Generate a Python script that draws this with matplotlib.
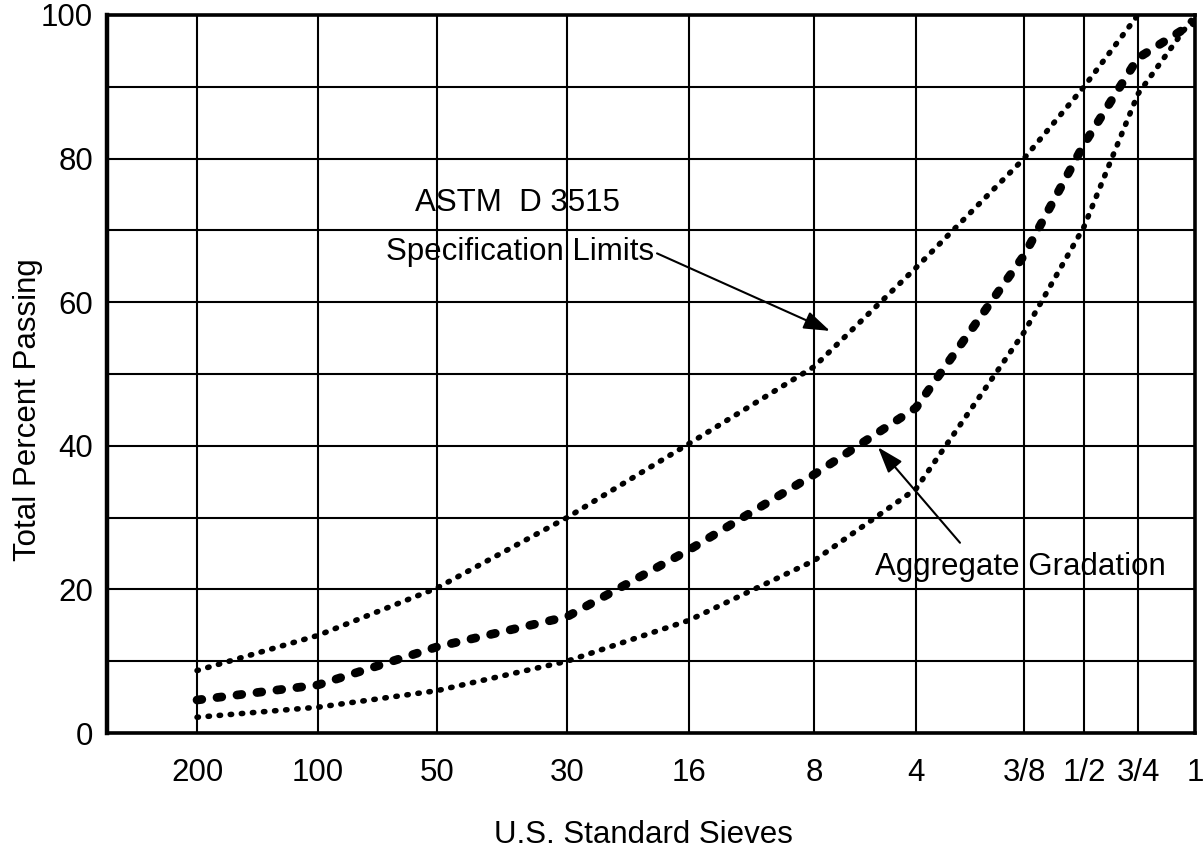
import numpy as np
import matplotlib
matplotlib.use("Agg")
import matplotlib.pyplot as plt
from matplotlib.ticker import FixedLocator, MultipleLocator

# ---- data -------------------------------------------------------------
sieves = ["200", "100", "50", "30", "16", "8", "4", "3/8", "1/2", "3/4", "1"]
# upper limit reaches 100 at the 3/4 in. sieve
upper_limit = [8.7, 13.6, 20.2, 30.0, 40.3, 51.0, 64.8, 80.0, 90.0, 100.0]
lower_limit = [2.2, 3.6, 5.9, 10.0, 15.7, 24.0, 34.0, 55.8, 70.5, 89.0, 100.0]
gradation = [4.6, 6.7, 12.0, 16.2, 25.5, 36.0, 45.3, 66.5, 82.0, 94.0, 99.0]

# ---- layout: the printed sieve ruler is not uniformly spaced ----------
RULER = np.array([76, 197, 318, 437, 567, 689, 814, 916, 1024, 1084, 1138, 1195], float)
RULER_IDX = np.arange(-1, len(sieves), dtype=float)


def fwd(x):
    return np.interp(x, RULER_IDX, RULER)


def inv(p):
    return np.interp(p, RULER, RULER_IDX)


plt.rcParams["font.family"] = ["Liberation Sans", "DejaVu Sans"]
FS = 22.5

fig = plt.figure(figsize=(12.04, 8.5), dpi=100)
ax = fig.add_axes([0.0889, 0.1376, 0.9036, 0.8448])
ax.set_xscale("function", functions=(fwd, inv))

ax.set_xlim(inv(107), len(sieves) - 1)
ax.set_ylim(0, 100)

# grid
ax.xaxis.set_major_locator(FixedLocator(np.arange(len(sieves))))
ax.set_xticklabels(sieves)
ax.xaxis.set_minor_locator(FixedLocator([]))
ax.yaxis.set_major_locator(MultipleLocator(20))
ax.yaxis.set_minor_locator(FixedLocator([10, 30, 50, 70, 90]))
ax.grid(True, which="both", color="black", linewidth=1.5)
ax.set_axisbelow(True)
ax.tick_params(which="both", length=0, labelsize=FS, colors="black")
ax.tick_params(axis="y", pad=10)
ax.tick_params(axis="x", pad=18)
for s in ax.spines.values():
    s.set_linewidth(2.6)
    s.set_color("black")
ax.spines["left"].set_linewidth(3.2)

# curves
dot = dict(color="black", linewidth=4.0, linestyle=(0, (0.25, 1.75)),
           dash_capstyle="round", zorder=2)
ax.plot(np.arange(len(upper_limit)), upper_limit, **dot)
ax.plot(np.arange(len(lower_limit)), lower_limit, **dot)
ax.plot(np.arange(len(gradation)), gradation, color="black", linewidth=6.3,
        linestyle=(0, (0.55, 1.75)), dash_capstyle="round", zorder=2)

# axis titles
ax.set_xlabel("U.S. Standard Sieves", fontsize=FS, va="center", ha="center")
ax.xaxis.set_label_coords(0.4926, -0.1415)
ax.set_ylabel("Total Percent Passing", fontsize=FS, va="center", ha="center")
ax.yaxis.set_label_coords(-0.0726, 0.451)

# callouts
ax.text(inv(517), 73.8, "ASTM  D 3515", fontsize=FS, ha="center", va="center")
ax.text(inv(520), 67.0, "Specification Limits", fontsize=FS, ha="center", va="center")
ax.annotate("", xy=(inv(830), 56.0), xytext=(inv(657), 66.8),
            arrowprops=dict(arrowstyle="-|>,head_length=1.6,head_width=0.55",
                            color="black", linewidth=1.5, shrinkA=0, shrinkB=0))

ax.text(inv(1020), 23.1, "Aggregate Gradation", fontsize=FS, ha="center", va="center")
ax.annotate("", xy=(inv(878), 39.8), xytext=(inv(960), 26.5),
            arrowprops=dict(arrowstyle="-|>,head_length=1.6,head_width=0.55",
                            color="black", linewidth=1.5, shrinkA=0, shrinkB=0))

fig.savefig("out.png", dpi=100)
